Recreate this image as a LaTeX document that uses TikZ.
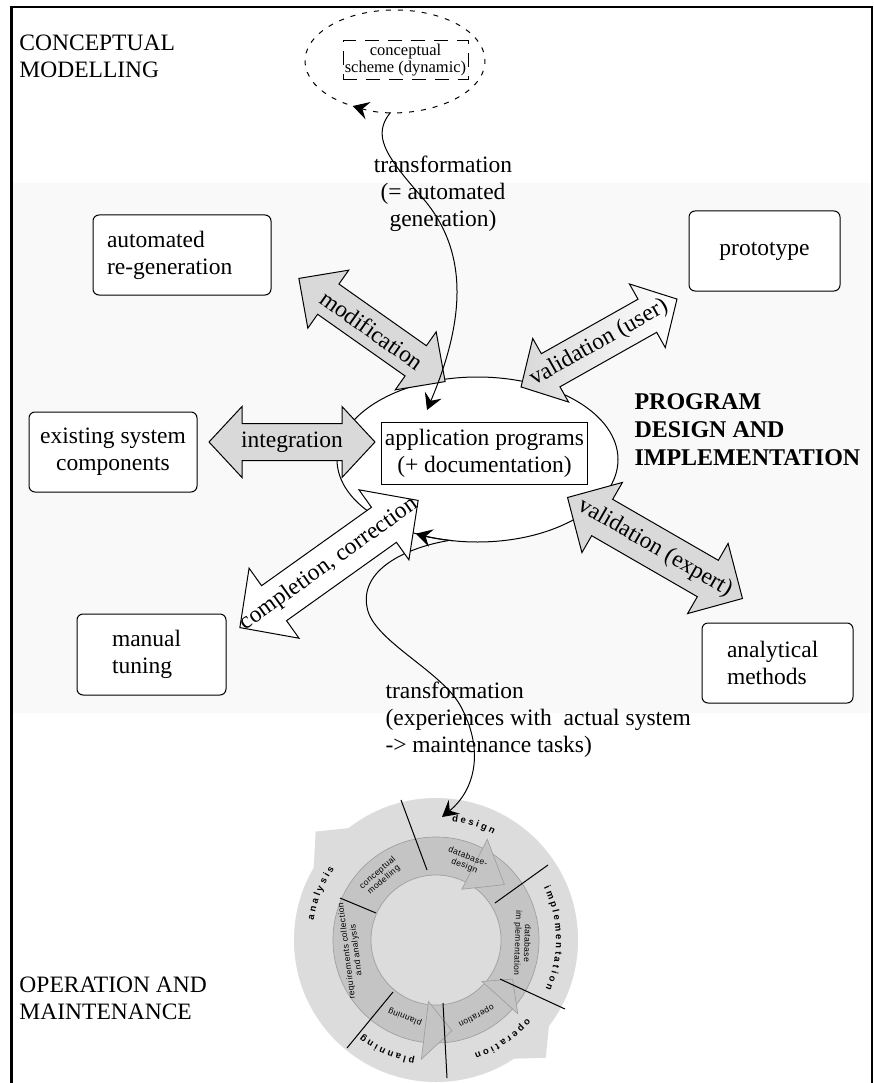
\documentclass[tikz,border=0pt]{standalone}
\usepackage{fontspec}
\setmainfont{Liberation Serif}
\newfontfamily\ringfont{Liberation Sans}
\newfontfamily\innerfont[LetterSpace=5]{Liberation Sans}
\usetikzlibrary{arrows.meta,shapes.geometric,decorations.text}

\newcommand{\mainsz}{\fontsize{23.5}{27}\selectfont}
\newcommand{\smallsz}{\fontsize{16.5}{17}\selectfont}
\newcommand{\ringsz}{\ringfont\bfseries\fontsize{9.5}{10}\selectfont}

\definecolor{bandgray}{HTML}{F9F9F9}
\definecolor{arrowgray}{HTML}{D9D9D9}
\definecolor{outerring}{HTML}{DCDCDC}
\definecolor{innerring}{HTML}{C4C4C4}
\definecolor{ringedge}{HTML}{A0A0A0}

\tikzset{
	rbox/.style={draw, rounded corners=6pt, fill=white, minimum height=80pt},
	lbl/.style={align=left, inner sep=0pt},
	innertxt/.style={font=\innerfont\fontsize{8.5}{9.5}\selectfont, align=center, inner sep=0pt},
	ringtxt/.style={decorate, decoration={text along path, text align=center, text={|\ringsz|#1}}}
}

% double headed block arrow: style, name, centre, angle, half length, shaft, head, head length, text
\newcommand{\bigarrow}[9]{%
	\begin{scope}[shift={#3}, rotate=#4]
	\draw[#1] (-#5,0) -- ({-#5+#8},#7) -- ({-#5+#8},#6) -- ({#5-#8},#6) -- ({#5-#8},#7) -- (#5,0)
	-- ({#5-#8},-#7) -- ({#5-#8},-#6) -- ({-#5+#8},-#6) -- ({-#5+#8},-#7) -- cycle;
	\node[rotate=#4] (#2) at (0,0) {#9};
	\end{scope}}

\begin{document}
\begin{tikzpicture}[x=1pt, y=-1pt, line width=1pt, >={Stealth[length=16pt,width=18pt,inset=6pt]}, every node/.style={font=\mainsz}]
	\fill[white] (0,0) rectangle (874,1083);
	\useasboundingbox (0,0) rectangle (874,1083);
	
	%band and frame
	\fill[bandgray] (12,183) rectangle (870,713);
	\draw[line width=2.5pt] (11.5,1083) -- (11.5,7) -- (872,7) -- (872,1083);
	
	%labels
	\node[lbl, anchor=west] (lconc) at (19,56.5) {CONCEPTUAL\\MODELLING};
	\node[lbl, anchor=west, font=\fontsize{24}{28}\selectfont\bfseries] (lprog) at (634,430) {PROGRAM\\DESIGN AND\\IMPLEMENTATION};
	\node[lbl, anchor=west] (loper) at (19,998) {OPERATION AND\\MAINTENANCE};
	
	%conceptual scheme
	\node[ellipse, minimum width=180pt, minimum height=102pt, inner sep=0pt] (cs) at (395,61) {};
	\node[draw, dash pattern=on 14pt off 9pt, minimum width=125pt, minimum height=39pt, inner sep=0pt, align=center, font=\smallsz] (csbox) at (405.5,60.5) {conceptual\\scheme (dynamic)};
	\draw[->, dash pattern=on 5pt off 7pt] (cs.center) ++(-238:90 and 51) arc[start angle=-238, end angle=118, x radius=90, y radius=51];
	
	%life cycle
	\begin{scope}[shift={(436,940)}, y=1pt]
	\fill[outerring] (0,0) circle (142);
	\fill[outerring] (151:140) -- (138:162) -- (126:139) -- cycle;
	\fill[outerring] (-36:140) -- (-47:161) -- (-58:140) -- cycle;
	\fill[innerring, even odd rule] (0,0) circle (103) (0,0) circle (65);
	\draw[ringedge, line width=0.7pt] (0,0) circle (103) (0,0) circle (65);
	\filldraw[innerring, draw=ringedge, line width=0.7pt] (63:113) -- (39:88) -- (63:57) -- cycle;
	\filldraw[innerring, draw=ringedge, line width=0.7pt] (-42:110) -- (-27:86) -- (-42:62) -- cycle;
	\filldraw[innerring, draw=ringedge, line width=0.7pt] (-97:120) -- (-80:92) -- (-97:62) -- cycle;
	%dividers
	\draw (-35,140) -- (-9,70);
	\draw (112,75) -- (59,37);
	\draw (129,-69) -- (64,-39);
	\draw (7,-63) -- (11,-138);
	\draw (-89,-108) -- (-43,-52);
	\draw (-96,42) -- (-60,27);
	%outer texts
	\path[ringtxt=d e s i g n] (100:120) arc[start angle=100, end angle=44, radius=120];
	\path[ringtxt=i m p l e m e n t a t i o n] (34:120) arc[start angle=34, end angle=-32, radius=120];
	\path[ringtxt=o p e r a t i o n] (-28:120) arc[start angle=-28, end angle=-84, radius=120];
	\path[ringtxt=p l a n n i n g] (-86:120) arc[start angle=-86, end angle=-142, radius=120];
	\path[ringtxt=a n a l y s i s] (200:124) arc[start angle=200, end angle=116, radius=124];
	%inner texts
	\node[innertxt, rotate=-21] (tdes) at (69:84) {database-\\design};
	\node[innertxt, rotate=-92] (timp) at (-2:86) {database\\im plementation};
	\node[innertxt, rotate=-152] (topr) at (-62:86) {operation};
	\node[innertxt, rotate=158] (tpla) at (-112:83) {planning};
	\node[innertxt, rotate=97] (treq) at (-173:85) {requirements collection\\and analysis};
	\node[innertxt, rotate=41] (tcon) at (131:84) {conceptual\\modelling};
	\end{scope}
	\coordinate (cyctop) at (442,817);
	
	%program design
	\node[ellipse, draw, fill=white, minimum width=281pt, minimum height=165pt, inner sep=0pt] (prog) at (477.5,459.5) {};
	\node[draw, fill=white, minimum width=205pt, minimum height=62pt, align=center] (apps) at (484.5,453) {application programs\\(+ documentation)};
	\draw[->] (prog.250) .. controls (405,548) and (360,570) .. (367,607) .. controls (372,640) and (440,670) .. (460,705) .. controls (485,750) and (475,790) .. (cyctop);
	
	%boxes
	\node[rbox, minimum width=178pt, text width=150pt, align=left] (autogen) at (182,255) {automated\\re-generation};
	\node[rbox, minimum width=151pt, align=center] (proto) at (764.5,251) {prototype};
	\node[rbox, minimum width=168pt, align=center] (exist) at (113,452) {existing system\\components};
	\node[rbox, minimum width=149pt, minimum height=81pt, text width=79pt, align=left] (manual) at (151.5,654.5) {manual\\tuning};
	\node[rbox, minimum width=151pt, text width=101pt, align=left] (analyt) at (777.5,663) {analytical\\methods};
	
	%block arrows
	\bigarrow{fill=arrowgray}{integ}{(292,442)}{0}{83}{18.5}{35.5}{33}{integration}
	\bigarrow{fill=arrowgray}{modif}{(372,330)}{-35.2}{89.5}{18.5}{35.5}{36}{modification}
	\bigarrow{left color=arrowgray, right color=white}{valuser}{(599,343)}{29.4}{89.5}{19}{36.5}{34}{validation (user)}
	\bigarrow{fill=arrowgray}{valexp}{(655,548)}{-30}{101}{21}{40.5}{40}{validation (expert)}
	\bigarrow{fill=white}{compl}{(329,564)}{35.5}{109.5}{21.5}{43}{42}{completion, correction}
	
	%transformation arrows
	\coordinate (appin) at (427,410);
	\draw[->] (prog.center) ++(100:140.5 and 82.5) arc[start angle=100, end angle=116, x radius=140.5, y radius=82.5];
	\draw[->] (cs.265) .. controls (372,135) and (385,155) .. (420,195) .. controls (470,250) and (465,320) .. (appin);
	\node[align=center] (ltransa) at (443,194) {transformation\\(= automated\\generation)};
	\node[lbl, anchor=west] (ltransb) at (385,719.5) {transformation\\(experiences with\ \ actual system\\-> maintenance tasks)};
\end{tikzpicture}
\end{document}
